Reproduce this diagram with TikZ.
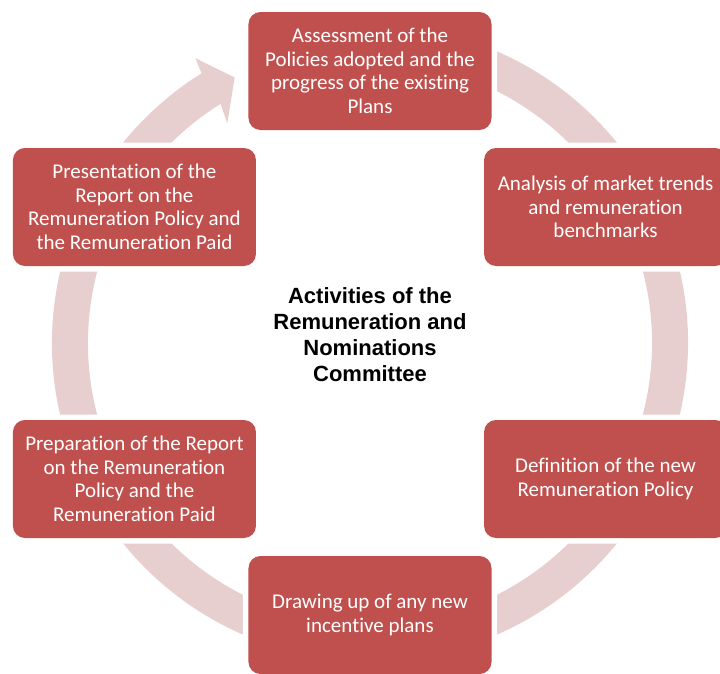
\documentclass[tikz,border=0pt]{standalone}
\usepackage{fontspec}
\usepackage{tikz}
\setmainfont{Carlito}[Ligatures=NoCommon]
\newfontfamily\titlefont{Liberation Sans}
\definecolor{boxred}{HTML}{C0504D}
\definecolor{ringpink}{HTML}{E7CFCF}

\begin{document}
\begin{tikzpicture}[x=1pt,y=1pt,
  stage/.style={fill=boxred,rounded corners=12pt,minimum width=243pt,minimum height=118pt,
    inner sep=0pt,align=center,text=white,font=\fontsize{21}{23.5}\selectfont,
    preaction={draw=white,line width=11pt}}]
\useasboundingbox (-370,-330) rectangle (350,343);
%ring with arrow head
\fill [ringpink] (80:318) arc[start angle=80,end angle=-238,radius=318]
  -- (121.5:334) -- (117:298) -- (123:262) -- (122:282)
  arc[start angle=-238,end angle=80,radius=282] -- cycle;
%stages
\node [stage] (assess) at (90:272) {Assessment of the\\Policies adopted and the\\progress of the existing\\Plans};
\node [stage] (analysis) at (30:272) {Analysis of market trends\\and remuneration\\benchmarks};
\node [stage] (define) at (-30:272) {Definition of the new\\Remuneration Policy};
\node [stage] (drawup) at (-90:272) {Drawing up of any new\\incentive plans};
\node [stage] (prepare) at (-150:272) {Preparation of the Report\\on the Remuneration\\Policy and the\\Remuneration Paid};
\node [stage] (present) at (150:272) {Presentation of the\\Report on the\\Remuneration Policy and\\the Remuneration Paid};
%title
\node [align=center,font=\titlefont\bfseries\fontsize{22}{26}\selectfont] (title) at (0,8) {Activities of the\\Remuneration and\\Nominations\\Committee};
\end{tikzpicture}
\end{document}
